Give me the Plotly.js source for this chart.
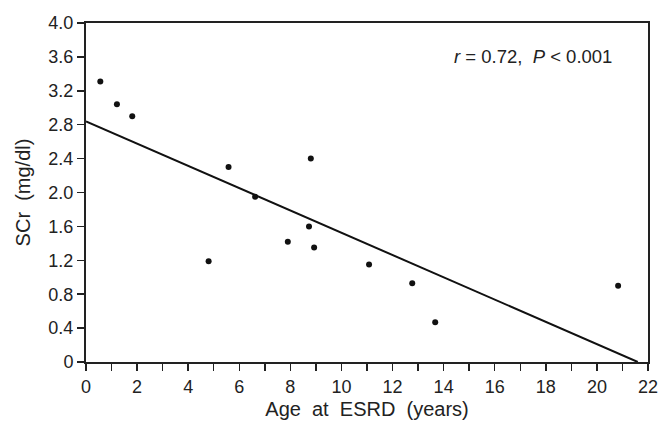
<!DOCTYPE html>
<html>
<head>
<meta charset="utf-8">
<script src="https://cdn.plot.ly/plotly-3.0.1.min.js"></script>
<style>html,body{margin:0;padding:0;background:#fff;}#chart{width:659px;height:423px;}</style>
</head>
<body>
<div id="chart"></div>
<script>
// Data
const ageAtESRD = [0.56, 1.21, 1.81, 4.80, 5.58, 6.62, 7.90, 8.73, 8.80, 8.93, 11.08, 12.77, 13.67, 20.83];
const scr       = [3.31, 3.04, 2.90, 1.19, 2.30, 1.95, 1.42, 1.60, 2.40, 1.35, 1.15, 0.93, 0.47, 0.90];
// Regression line endpoints
const fitX = [0, 21.6];
const fitY = [2.84, 0];
// Axis ticks
const yTickVals = [0, 0.4, 0.8, 1.2, 1.6, 2.0, 2.4, 2.8, 3.2, 3.6, 4.0];
const yTickText = ["0", "0.4", "0.8", "1.2", "1.6", "2.0", "2.4", "2.8", "3.2", "3.6", "4.0"];
const xTickVals = [0, 2, 4, 6, 8, 10, 12, 14, 16, 18, 20, 22];
const statsText = "<i>r</i> = 0.72,  <i>P</i> &lt; 0.001";

const font = "Liberation Sans, Arial, Helvetica, sans-serif";
const axisColor = "#222";

const traces = [
  {
    x: fitX, y: fitY, mode: "lines", type: "scatter",
    line: {color: "#111", width: 2}, hoverinfo: "skip", showlegend: false
  },
  {
    x: ageAtESRD, y: scr, mode: "markers", type: "scatter",
    marker: {color: "#111", size: 6}, showlegend: false
  }
];

const layout = {
  width: 659, height: 423,
  margin: {l: 86, r: 11, t: 23, b: 61},
  paper_bgcolor: "#fff", plot_bgcolor: "#fff",
  font: {family: font, color: axisColor, size: 18},
  showlegend: false,
  xaxis: {
    range: [0, 22], showgrid: false, zeroline: false,
    showline: true, linecolor: axisColor, linewidth: 2, mirror: true,
    tickmode: "array", tickvals: xTickVals,
    ticks: "outside", ticklen: 7, tickwidth: 1.5, tickcolor: axisColor,
    minor: {dtick: 1, ticks: "outside", ticklen: 7, tickwidth: 1.5, tickcolor: axisColor, showgrid: false},
    tickfont: {size: 18, family: font, color: axisColor},
    title: {text: "Age\u00a0\u00a0at\u00a0\u00a0ESRD\u00a0\u00a0(years)", font: {size: 20, family: font, color: axisColor}, standoff: 6}
  },
  yaxis: {
    range: [0, 4], showgrid: false, zeroline: false,
    showline: true, linecolor: axisColor, linewidth: 2, mirror: true,
    tickmode: "array", tickvals: yTickVals, ticktext: yTickText,
    ticks: "outside", ticklen: 7, tickwidth: 1.5, tickcolor: axisColor,
    tickfont: {size: 18, family: font, color: axisColor},
    title: {text: "SCr\u00a0\u00a0(mg/dl)", font: {size: 20, family: font, color: axisColor}, standoff: 12}
  },
  annotations: [{
    text: statsText, xref: "paper", yref: "paper",
    x: 0.796, y: 0.902, xanchor: "center", yanchor: "middle",
    showarrow: false, font: {size: 18.5, family: font, color: axisColor}
  }]
};

Plotly.newPlot("chart", traces, layout, {displayModeBar: false, staticPlot: true});
</script>
</body>
</html>
